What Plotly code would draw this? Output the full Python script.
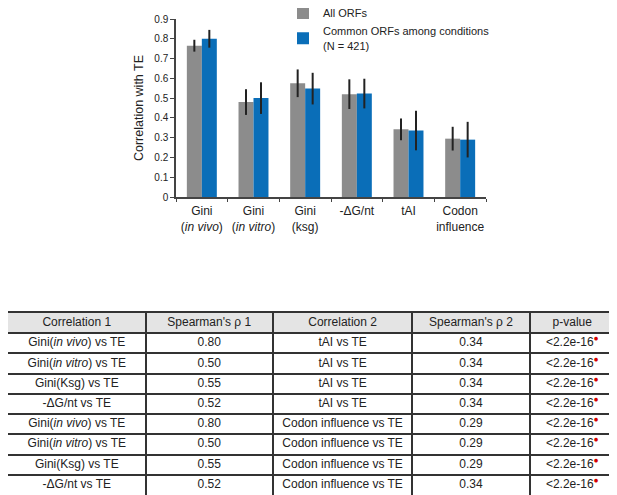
import plotly.graph_objects as go

# 柱状图数据
categories = [
    "Gini<br>(<i>in vivo</i>)",
    "Gini<br>(<i>in vitro</i>)",
    "Gini<br>(ksg)",
    "-ΔG/nt",
    "tAI",
    "Codon<br>influence",
]
all_orfs = [0.765, 0.48, 0.575, 0.52, 0.342, 0.295]
all_orfs_err = [0.03, 0.065, 0.07, 0.075, 0.055, 0.06]
common_orfs = [0.80, 0.50, 0.548, 0.523, 0.336, 0.29]
common_orfs_err = [0.045, 0.08, 0.08, 0.075, 0.10, 0.09]

# 表格数据
table_header = ["Correlation 1", "Spearman's ρ 1", "Correlation 2", "Spearman's ρ 2", "p-value"]
corr1 = [
    "Gini(<i>in vivo</i>) vs TE",
    "Gini(<i>in vitro</i>) vs TE",
    "Gini(Ksg) vs TE",
    "-ΔG/nt vs TE",
    "Gini(<i>in vivo</i>) vs TE",
    "Gini(<i>in vitro</i>) vs TE",
    "Gini(Ksg) vs TE",
    "-ΔG/nt vs TE",
]
rho1 = ["0.80", "0.50", "0.55", "0.52", "0.80", "0.50", "0.55", "0.52"]
corr2 = ["tAI vs TE"] * 4 + ["Codon influence vs TE"] * 4
rho2 = ["0.34", "0.34", "0.34", "0.34", "0.29", "0.29", "0.29", "0.34"]
p_values = ["<2.2e-16"] * 8

FONT = "Liberation Sans, Arial, sans-serif"
# 页面 body 自带 8px 边距，整体往左上收 8px
OFF = 8
W, H = 617 - OFF, 495 - OFF


def px_x(x):
    return (x - OFF) / W


def px_y(y):
    return 1 - (y - OFF) / H


fig = go.Figure()

fig.add_trace(go.Bar(
    x=categories, y=all_orfs, name="All ORFs",
    marker=dict(color="#8c8c8c", line=dict(width=0)),
    error_y=dict(type="data", array=all_orfs_err, color="#222", thickness=2, width=0),
))
fig.add_trace(go.Bar(
    x=categories, y=common_orfs, name="Common ORFs among conditions<br>(N = 421)",
    marker=dict(color="#0a6eb8", line=dict(width=0)),
    error_y=dict(type="data", array=common_orfs_err, color="#222", thickness=2, width=0),
))

# ---- 表格：go.Table 行高会被撑大，这里用文字散点 + 网格线画 ----
col_widths = [139, 128.6, 141, 118.4, 86.3]
col_edges = [0]
for w in col_widths:
    col_edges.append(col_edges[-1] + w)
col_centers = [(a + b) / 2 for a, b in zip(col_edges[:-1], col_edges[1:])]

p_cells = [p + "<span style='color:#d40000'><sup>●</sup></span>" for p in p_values]
columns = [corr1, rho1, corr2, rho2, p_cells]
n_rows = len(corr1) + 1

cell_x, cell_y, cell_text = [], [], []
for ci, col in enumerate(columns):
    for ri, txt in enumerate([table_header[ci]] + col):
        cell_x.append(col_centers[ci])
        cell_y.append(ri + 0.5)
        cell_text.append(txt)

fig.add_trace(go.Scatter(
    x=cell_x, y=cell_y, text=cell_text, mode="text",
    textposition="middle center",
    textfont=dict(family=FONT, size=12, color="#222"),
    xaxis="x2", yaxis="y2", showlegend=False, hoverinfo="skip",
))

# 表头底色
fig.add_shape(type="rect", xref="x2", yref="y2", x0=col_edges[0], x1=col_edges[-1],
              y0=0, y1=1, fillcolor="#e4e4e4", line=dict(width=0), layer="below")

fig.update_layout(
    width=W, height=H,
    margin=dict(l=0, r=0, t=0, b=0, autoexpand=False),
    paper_bgcolor="white", plot_bgcolor="white",
    font=dict(family=FONT, size=12, color="#222"),
    barmode="group", bargap=0.42, bargroupgap=0,
    showlegend=True,
    legend=dict(
        x=px_x(283), y=px_y(-1.5), xanchor="left", yanchor="top",
        bgcolor="rgba(0,0,0,0)", font=dict(size=11, color="#222"),
        tracegroupgap=0, itemwidth=30,
    ),
    xaxis=dict(
        domain=[px_x(176), px_x(486)],
        showline=True, linecolor="#444", linewidth=1.5,
        ticks="outside", tickson="boundaries", ticklen=3, tickcolor="#444",
        tickangle=0, ticklabelstandoff=2,
        tickfont=dict(size=12, color="#222"),
        showgrid=False,
    ),
    yaxis=dict(
        domain=[px_y(197), px_y(19)],
        range=[0, 0.9], dtick=0.1,
        showline=True, linecolor="#444", linewidth=1.5,
        ticks="outside", ticklen=4, tickcolor="#444",
        tickfont=dict(size=10, color="#222"),
        showgrid=False, zeroline=False,
        title=dict(text="Correlation with TE", font=dict(size=12.5, color="#222"), standoff=8),
    ),
    xaxis2=dict(
        domain=[0, px_x(615)], anchor="y2",
        range=[col_edges[0], col_edges[-1]],
        tickmode="array", tickvals=col_edges, showticklabels=False, ticks="",
        showgrid=True, gridcolor="#333", gridwidth=1.5, zeroline=False,
        showline=True, mirror=True, linecolor="#333", linewidth=1.5,
    ),
    yaxis2=dict(
        domain=[0, px_y(313)], anchor="x2",
        range=[n_rows, 0],
        tickmode="array", tickvals=list(range(n_rows + 1)), showticklabels=False, ticks="",
        showgrid=True, gridcolor="#333", gridwidth=1.5, zeroline=False,
        showline=True, mirror=True, linecolor="#333", linewidth=1.5,
    ),
)

fig.write_html("out.html")
